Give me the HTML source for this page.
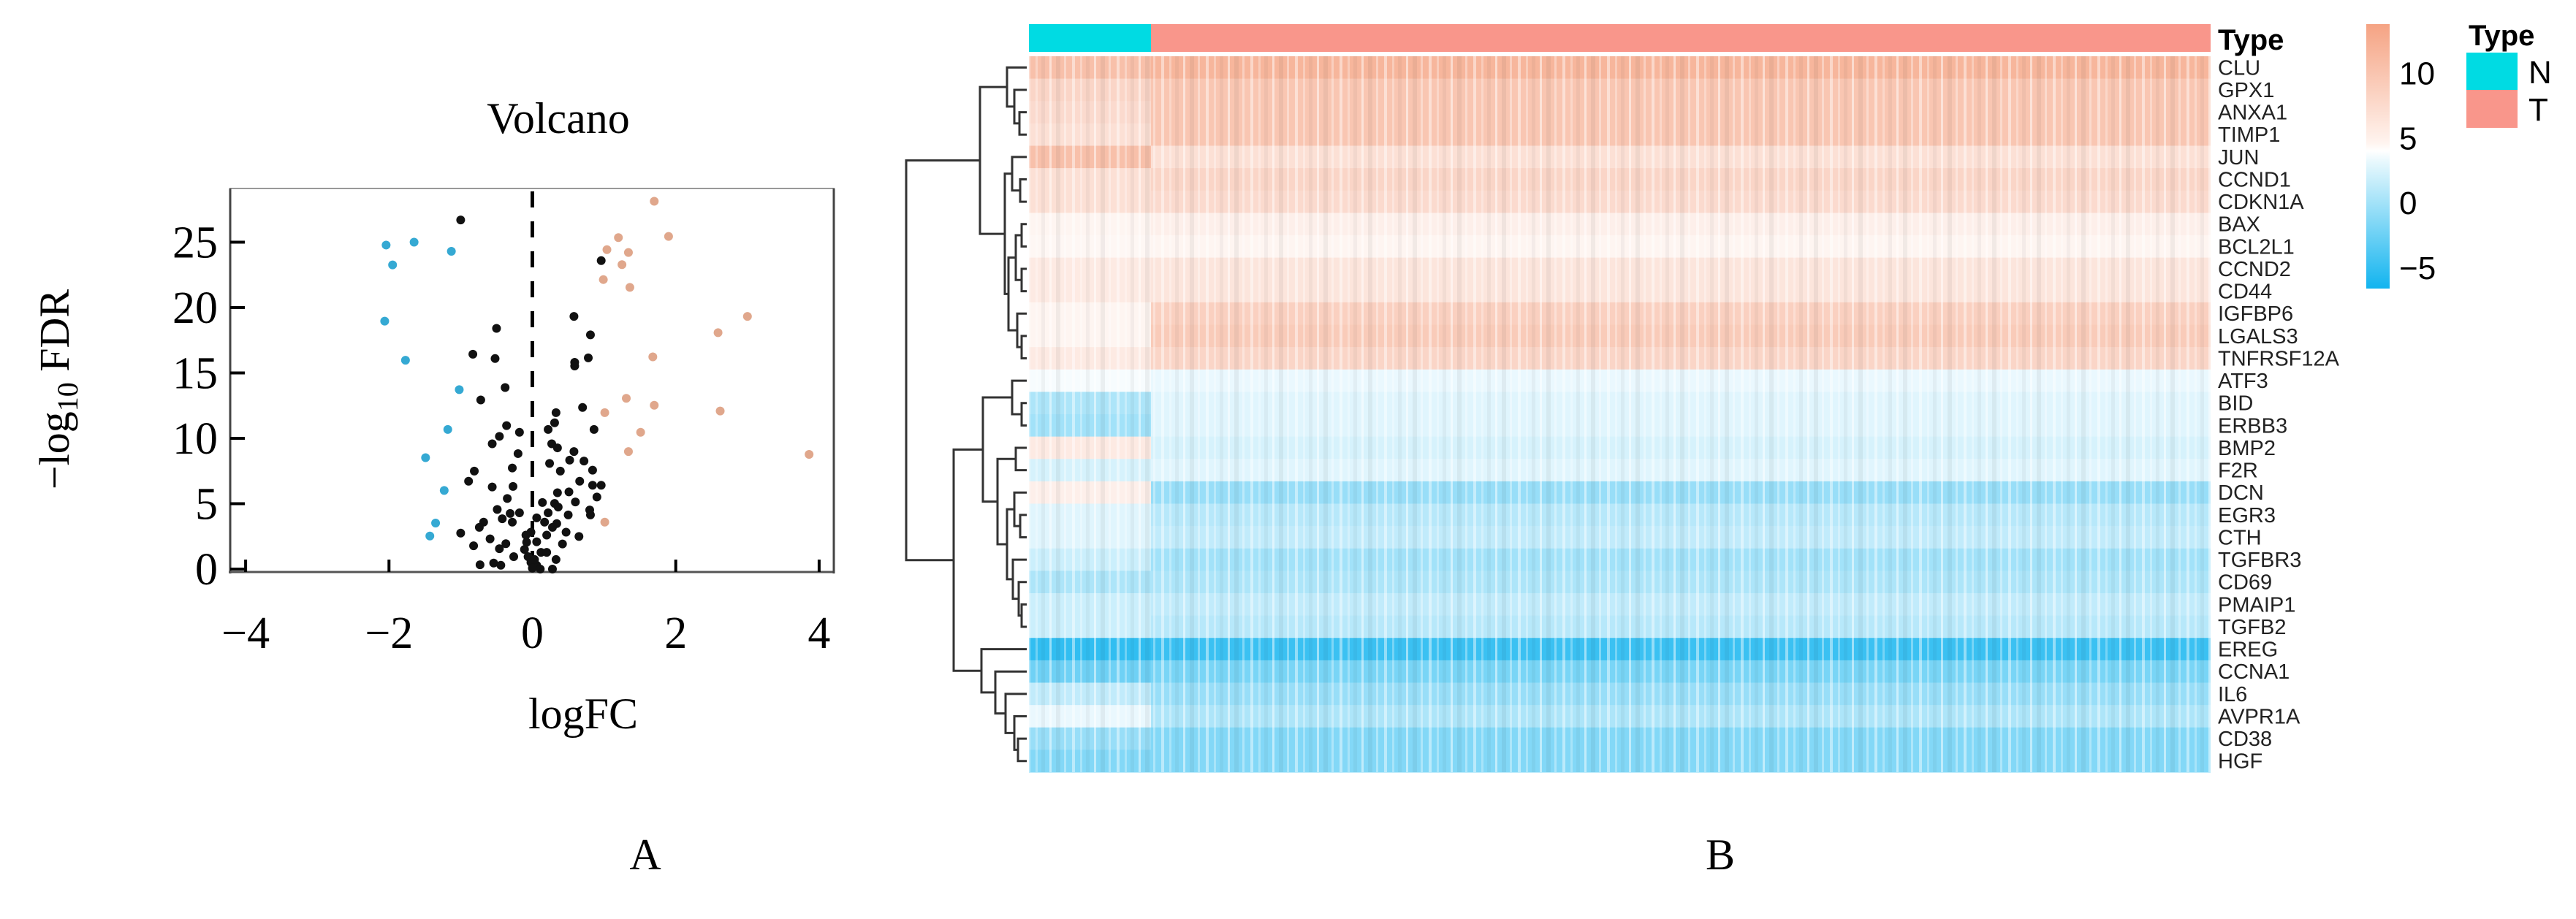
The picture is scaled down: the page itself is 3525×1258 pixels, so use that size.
<!DOCTYPE html>
<html><head><meta charset="utf-8"><style>
html,body{margin:0;padding:0;background:#fff;}
svg{display:block;}
.serif{font-family:"Liberation Serif","DejaVu Serif",serif;}
.sans{font-family:"Liberation Sans","DejaVu Sans",sans-serif;}
</style></head><body>
<svg id="fig" width="3525" height="1258" viewBox="0 0 3525 1258" xmlns="http://www.w3.org/2000/svg">
<defs>
<linearGradient id="cbar" x1="0" y1="0" x2="0" y2="1">
<stop offset="0" stop-color="#f5a383"/>
<stop offset="0.45" stop-color="#fff4ef"/>
<stop offset="0.48" stop-color="#ffffff"/>
<stop offset="0.52" stop-color="#e8f8fd"/>
<stop offset="1" stop-color="#12b4ef"/>
</linearGradient>
<pattern id="stripes" width="61" height="10" patternUnits="userSpaceOnUse">
<rect x="3" y="0" width="4" height="10" fill="#fff" opacity="0.45"/>
<rect x="14" y="0" width="3" height="10" fill="#fff" opacity="0.3"/>
<rect x="22" y="0" width="5" height="10" fill="#000" opacity="0.04"/>
<rect x="33" y="0" width="3" height="10" fill="#fff" opacity="0.5"/>
<rect x="42" y="0" width="6" height="10" fill="#000" opacity="0.05"/>
<rect x="53" y="0" width="3" height="10" fill="#fff" opacity="0.35"/>
</pattern>
</defs>

<g id="volcano">
<text class="serif" x="764" y="182" font-size="60" text-anchor="middle">Volcano</text>
<rect x="315" y="258" width="826" height="525" fill="none" stroke="#999" stroke-width="2"/>
<line x1="315" y1="258" x2="315" y2="785" stroke="#444" stroke-width="3"/>
<line x1="313" y1="783" x2="1141" y2="783" stroke="#555" stroke-width="3"/>
<line x1="1141" y1="258" x2="1141" y2="785" stroke="#444" stroke-width="3"/>
<g id="vticks"></g>
<g id="vpoints"></g>
<text class="serif" transform="translate(94,533) rotate(-90)" font-size="58" text-anchor="middle">−log<tspan font-size="40" dy="12">10</tspan><tspan dy="-12"> FDR</tspan></text>
<text class="serif" x="798" y="997" font-size="60" text-anchor="middle">logFC</text>
<text class="serif" x="883" y="1190" font-size="60" text-anchor="middle">A</text>
</g>

<g id="heat">
<g id="hcells"></g>
<rect x="1408" y="77" width="1617" height="980" fill="url(#stripes)"/>
<rect x="1408" y="33" width="167" height="38" fill="#00dbe3"/>
<rect x="1575" y="33" width="1450" height="38" fill="#f9968b"/>
<text class="sans" x="3035" y="68" font-size="40" font-weight="bold">Type</text>
<g id="glabels"></g>
<g id="dendro" fill="none" stroke="#333" stroke-width="3"></g>
<rect x="3238" y="33" width="32" height="362" fill="url(#cbar)"/>
<g id="cbticks"></g>
<text class="sans" x="3378" y="62" font-size="40" font-weight="bold">Type</text>
<rect x="3375" y="72" width="70" height="51" fill="#00dbe3"/>
<rect x="3375" y="123" width="70" height="52" fill="#f9968b"/>
<text class="sans" x="3460" y="114" font-size="44">N</text>
<text class="sans" x="3460" y="165" font-size="44">T</text>
<text class="serif" x="2354" y="1190" font-size="60" text-anchor="middle">B</text>
</g>
</svg>
<script>
const xTicks = [-4, -2, 0, 2, 4];
const yTicks = [0, 5, 10, 15, 20, 25];
const downFC = [-2.04,-1.65,-1.13,-1.95,-2.06,-1.77,-1.02,-1.18,-1.49,-1.23,-1.35,-1.43];
const downFDR = [24.78,25.0,24.3,23.26,18.96,15.97,13.72,10.68,8.52,6.01,3.52,2.53];
const upFC = [1.70,1.90,1.20,1.04,1.34,1.25,0.99,1.36,3.00,2.59,1.68,1.31,1.70,1.01,2.62,1.51,1.34,3.86,1.01];
const upFDR = [28.13,25.44,25.35,24.43,24.21,23.28,22.14,21.54,19.32,18.08,16.23,13.06,12.53,11.96,12.09,10.46,8.99,8.77,3.59];
const nsFC = [-1.00,0.96,0.58,-0.50,0.81,-0.83,-0.52,0.78,0.59,0.59,-0.38,-0.72,0.70,0.33,0.31,-0.36,0.22,0.86,-0.18,-0.46,-0.56,0.27,0.35,0.58,-0.20,0.72,0.52,0.24,-0.28,-0.81,0.39,0.84,-0.89,0.66,0.84,0.96,-0.56,-0.27,0.35,0.51,-0.35,0.90,0.14,0.31,0.60,-0.49,0.36,0.80,-0.31,-0.18,0.22,0.50,-0.42,0.06,0.81,-0.68,-0.28,0.17,0.34,-0.74,0.28,-1.00,0.47,-0.02,-0.09,0.20,0.65,-0.59,-0.37,-0.08,0.06,-0.82,0.42,-0.46,-0.11,0.12,0.20,-0.26,0.33,-0.06,-0.02,-0.73,-0.54,-0.44,0.06,0.00,0.28,0.11,0.03];
const nsFDR = [26.70,23.59,19.32,18.41,17.91,16.43,16.10,16.15,15.81,15.53,13.88,12.93,12.36,11.96,11.19,10.97,10.68,10.68,10.46,10.15,9.58,9.58,9.27,8.99,8.83,8.26,8.33,8.08,7.73,7.49,7.49,7.56,6.72,6.72,6.41,6.41,6.28,6.32,5.84,5.90,5.40,5.51,5.09,5.02,5.13,4.56,4.74,4.52,4.25,4.30,4.30,4.14,3.85,3.92,4.14,3.59,3.59,3.59,3.48,3.19,3.19,2.75,2.82,2.82,2.60,2.60,2.49,2.31,1.94,2.05,2.09,1.78,1.92,1.56,1.50,1.28,1.28,0.95,0.73,0.95,0.51,0.33,0.46,0.29,0.29,0.07,0.00,0.00,0.73];

const genes = ["CLU","GPX1","ANXA1","TIMP1","JUN","CCND1","CDKN1A","BAX","BCL2L1","CCND2","CD44","IGFBP6","LGALS3","TNFRSF12A","ATF3","BID","ERBB3","BMP2","F2R","DCN","EGR3","CTH","TGFBR3","CD69","PMAIP1","TGFB2","EREG","CCNA1","IL6","AVPR1A","CD38","HGF"];
const normalExpr = [11,9,8.5,8,11,8,8,6,5.8,7,7,6,6,7,4.6,1,0.5,7,3,6.5,3.5,3.5,2.5,1,2.5,2.5,-5,-2,2,4,0,-1];
const tumorExpr = [12,10.5,10.5,10.5,8,9,8.5,6.5,6,7.5,7.5,9.5,10,9,4,3.5,3.5,3,3.5,0,1.5,2,0.5,1,2,1.5,-4.5,-1.5,0,1,-1,-1];
const cbTicks = [10, 5, 0, -5];

const NS = "http://www.w3.org/2000/svg";
function mk(tag, attrs, parent){ const e=document.createElementNS(NS,tag); for(const k in attrs) e.setAttribute(k,attrs[k]); parent.appendChild(e); return e; }

const X0=728.5, XS=98.1, Y0=779, YS=17.9;
const sx = v => X0 + v*XS;
const sy = v => Y0 - v*YS;

const vt = document.getElementById('vticks');
for (const t of yTicks){
  const l = mk('line',{x1:315,x2:335,y1:sy(t),y2:sy(t),stroke:'#000','stroke-width':4},vt);
  
  
  const tx = mk('text',{x:298,y:sy(t)+21,'font-size':62,'text-anchor':'end','class':'serif'},vt);
  tx.textContent = String(t);
  
  
}
for (const t of xTicks){
  const l = mk('line',{x1:sx(t),x2:sx(t),y1:766,y2:783,stroke:'#000','stroke-width':4},vt);
  
  
  const tx = mk('text',{x:sx(t),y:887,'font-size':62,'text-anchor':'middle','class':'serif'},vt);
  tx.textContent = t<0 ? '−'+Math.abs(t) : String(t);
  
  
}
const zl = mk('line',{x1:sx(0),x2:sx(0),y1:262,y2:783,stroke:'#000','stroke-width':5,'stroke-dasharray':'22 19'},vt);



const vp = document.getElementById('vpoints');
function drawPts(fc, fdr, color, name){
  for (let i=0;i<fc.length;i++){
    const c = mk('circle',{cx:sx(fc[i]),cy:sy(fdr[i]),r:6,fill:color},vp);
    
    
  }
}
drawPts(nsFC, nsFDR, '#111', 'point-not-significant');
drawPts(downFC, downFDR, '#35a9d3', 'point-down-regulated');
drawPts(upFC, upFDR, '#e0a78c', 'point-up-regulated');

const HX=1408, HT=77, HB=1057, NX=1575, HR=3025;
const RH = (HB-HT)/genes.length;
function mix(a,b,t){ return a.map((v,i)=>Math.round(v+(b[i]-v)*t)); }
function colorFor(v){
  const W=[255,255,255], HI=[245,163,131], LO=[18,180,239];
  let c;
  if (v>=5) c = mix(W,HI,Math.min(1,(v-5)/8.8));
  else c = mix(W,LO,Math.min(1,(5-v)/11.5));
  return 'rgb('+c.join(',')+')';
}
const hc = document.getElementById('hcells');
const gl = document.getElementById('glabels');
for (let i=0;i<genes.length;i++){
  const y = HT + i*RH;
  const a = mk('rect',{x:HX,y:y,width:NX-HX,height:RH+0.5,fill:colorFor(normalExpr[i])},hc);
  
  
  const b = mk('rect',{x:NX,y:y,width:HR-NX,height:RH+0.5,fill:colorFor(tumorExpr[i])},hc);
  
  
  const t = mk('text',{x:3035,y:y+RH/2+10,'font-size':29,'class':'sans',fill:'#222'},gl);
  t.textContent = genes[i];
  
  
}

const cbg = document.getElementById('cbticks');
const cby = v => 278 - v*17.75;
for (const t of cbTicks){
  const tx = mk('text',{x:3283,y:cby(t)+15,'font-size':44,'class':'sans'},cbg);
  tx.textContent = t<0 ? '−'+Math.abs(t) : String(t);
  
  
}

const L = 1405;
function rowY(i){ return HT + (i+0.5)*RH; }
const tree =
 [[[0,[1,[2,3,1395],1388],1378],[[4,[5,6,1396],1385],[[[7,8,1398],[9,10,1398],1390],[11,[12,13,1398],1392],1380],1375],1341],
  [[[14,[15,16,1398],1385],[[17,18,1390],[[19,[20,21,1396],1388],[22,[23,[24,25,1398],1394],1386],1378],1365],1345],
   [26,[27,[28,[29,[30,31,1393],1388],1376],1362],1343],1305],1240];
const dg = document.getElementById('dendro');
function draw(node){
  if (typeof node === 'number') return {y: rowY(node), x: L};
  const a = draw(node[0]), b = draw(node[1]), h = node[2];
  const p = mk('path',{d:`M${a.x},${a.y}H${h}V${b.y}H${b.x}`},dg);
  
  
  return {y:(a.y+b.y)/2, x:h};
}
draw(tree);
</script>
</body></html>
